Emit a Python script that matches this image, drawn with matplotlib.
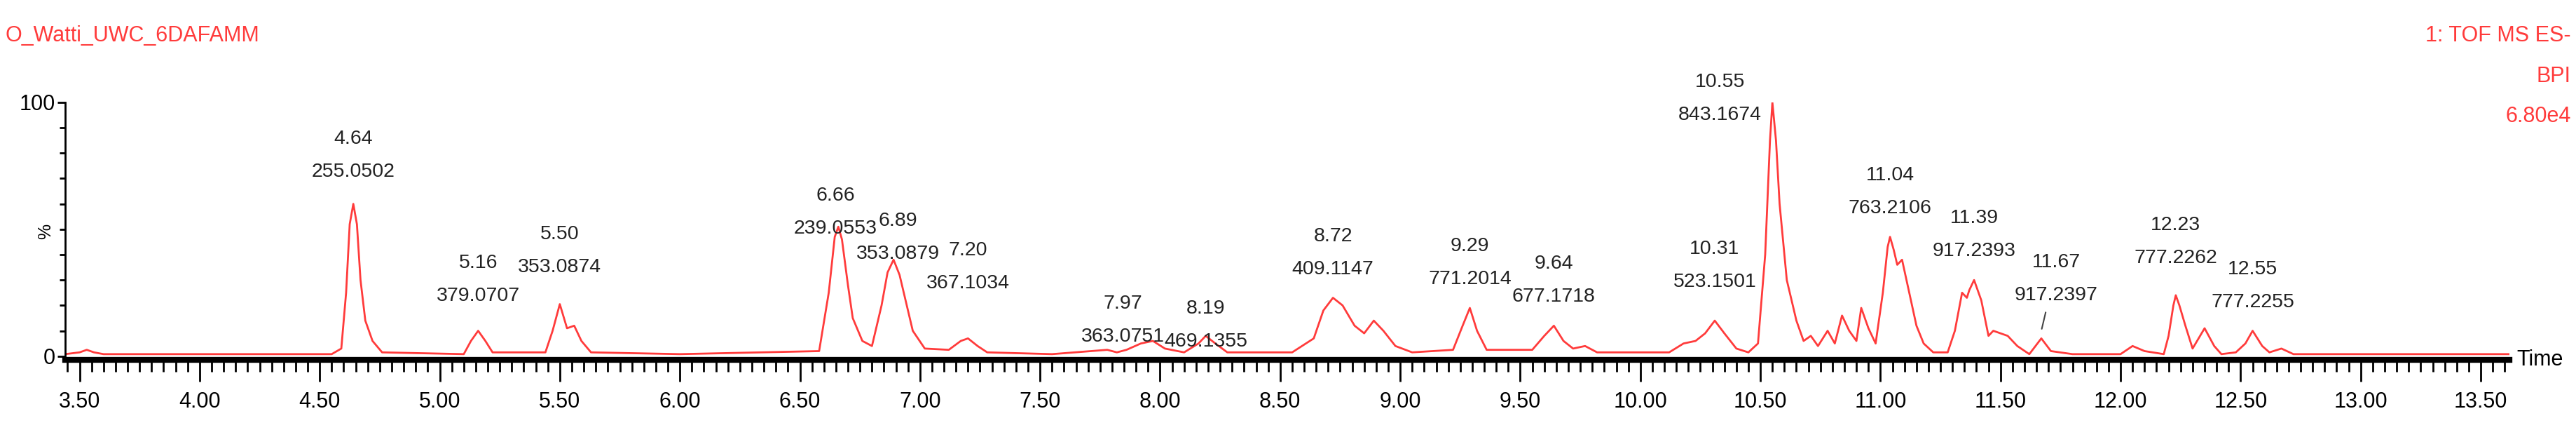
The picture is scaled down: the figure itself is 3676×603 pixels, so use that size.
import matplotlib.pyplot as plt
from matplotlib.ticker import MultipleLocator

# trace vertices (time [min], % BPI)
rt = [3.44, 3.50, 3.53, 3.56, 3.60, 4.00, 4.55, 4.59, 4.61, 4.625, 4.64, 4.655, 4.67, 4.69,
      4.72, 4.76, 5.10, 5.13, 5.16, 5.19, 5.22, 5.44, 5.47, 5.50, 5.53, 5.56, 5.59, 5.63,
      6.00, 6.58, 6.62, 6.645, 6.66, 6.675, 6.70, 6.72, 6.76, 6.80, 6.84, 6.865, 6.89,
      6.915, 6.94, 6.97, 7.02, 7.12, 7.17, 7.20, 7.24, 7.28, 7.55, 7.78, 7.82, 7.86, 7.92,
      7.97, 8.02, 8.10, 8.16, 8.19, 8.23, 8.28, 8.55, 8.64, 8.68, 8.72, 8.76, 8.81, 8.85,
      8.89, 8.93, 8.98, 9.05, 9.22, 9.26, 9.29, 9.32, 9.36, 9.55, 9.60, 9.64, 9.68, 9.72,
      9.77, 9.82, 10.12, 10.18, 10.23, 10.27, 10.31, 10.35, 10.40, 10.45, 10.49, 10.52,
      10.54, 10.55, 10.565, 10.58, 10.61, 10.65, 10.68, 10.71, 10.74, 10.78, 10.81, 10.84,
      10.87, 10.90, 10.92, 10.95, 10.98, 11.01, 11.03, 11.04, 11.055, 11.07, 11.09, 11.12,
      11.15, 11.18, 11.22, 11.28, 11.31, 11.34, 11.36, 11.37, 11.39, 11.42, 11.45, 11.47,
      11.50, 11.53, 11.57, 11.62, 11.67, 11.71, 11.80, 12.00, 12.05, 12.10, 12.18, 12.20,
      12.22, 12.23, 12.245, 12.27, 12.30, 12.35, 12.39, 12.42, 12.48, 12.52, 12.55, 12.59,
      12.62, 12.67, 12.72, 13.00, 13.62]
bpi = [0.8, 1.5, 2.5, 1.5, 0.8, 0.8, 0.8, 3, 25, 52, 60, 52, 30, 14,
       6, 1.5, 0.8, 6, 10, 6, 1.5, 1.5, 10, 20.5, 11, 12, 6, 1.5,
       0.8, 2, 25, 47, 51, 46, 28, 15, 6, 4, 20, 33, 38,
       32, 22, 10, 3, 2.5, 6, 7, 4, 1.5, 0.8, 2.5, 1.5, 2.5, 5,
       6, 3, 1.5, 5, 8, 5, 1.5, 1.5, 7, 18, 23, 20, 12, 9,
       14, 10, 4, 1.5, 2.5, 12, 19, 10, 2.5, 2.5, 8, 12, 6, 3,
       4, 1.5, 1.5, 5, 6, 9, 14, 9, 3, 1.5, 5, 40,
       85, 100, 85, 60, 30, 14, 6, 8, 4, 10, 5, 16,
       10, 6, 19, 11, 5, 25, 43, 47, 42, 36, 38, 25,
       12, 5, 1.5, 1.5, 10, 25, 23, 26, 30, 22, 8, 10,
       9, 8, 4, 0.8, 7, 2, 0.8, 0.8, 4, 2, 0.8, 8,
       20, 24, 20, 12, 3, 11, 4, 0.8, 1.5, 5, 10, 4,
       1.5, 3, 0.8, 0.8, 0.8]

# annotated peaks: retention time, height, m/z
peak_rt = [4.64, 5.16, 5.50, 6.66, 6.89, 7.20, 7.97, 8.19, 8.72, 9.29, 9.64,
           10.31, 10.55, 11.04, 11.39, 11.67, 12.23, 12.55]
peak_h = [60, 10, 20.5, 51, 38, 7, 6, 8, 23, 19, 12, 14, 100, 47, 30, 7, 24, 10]
peak_mz = ["255.0502", "379.0707", "353.0874", "239.0553", "353.0879", "367.1034",
           "363.0751", "469.1355", "409.1147", "771.2014", "677.1718", "523.1501",
           "843.1674", "763.2106", "917.2393", "917.2397", "777.2262", "777.2255"]
# label offsets in pixels (dx, dy) where the software moved the label
label_shift = {4.64: (0, 5), 5.16: (0, 9), 5.50: (0, 12), 6.66: (-4, -44),
               6.89: (6, -33), 7.20: (0, 37), 7.97: (-43, -35), 8.19: (0, -49),
               10.31: (0, 14), 10.55: (-75, -59), 11.67: (21, 20), 12.23: (0, 12)}

RED = "#ff3b3b"
FONT = ["Liberation Sans Narrow", "Liberation Sans", "DejaVu Sans"]
plt.rcParams["font.family"] = FONT

fig = plt.figure(figsize=(36.76, 6.03), dpi=100)
ax = fig.add_axes([0.0253, 0.149, 0.9489, 0.609])
ax.plot(rt, bpi, color=RED, lw=2)
ax.set_xlim(3.44, 13.62)
ax.set_ylim(-1.5, 100)

for t, h, mz in zip(peak_rt, peak_h, peak_mz):
    dx, dy = label_shift.get(t, (0, 0))
    ax.annotate(mz, (t, h), xytext=(dx, 28 + dy), textcoords="offset pixels",
                ha="center", va="bottom", fontsize=20.5, color="#222222")
    ax.annotate(f"{t:.2f}", (t, h), xytext=(dx, 75 + dy), textcoords="offset pixels",
                ha="center", va="bottom", fontsize=20.5, color="#222222")
ax.plot([10.545, 10.575], [101.5, 101.5], color="black", lw=2.5)
ax.annotate("", (11.67, 10), xytext=(11.69, 18), arrowprops=dict(arrowstyle="-", color="#444444", lw=1.5))

for s in ["top", "right"]:
    ax.spines[s].set_visible(False)
ax.spines["bottom"].set_linewidth(6)
ax.spines["left"].set_linewidth(2)

ax.xaxis.set_major_locator(MultipleLocator(0.5))
ax.xaxis.set_minor_locator(MultipleLocator(0.05))
ax.xaxis.set_major_formatter(lambda v, p: f"{v:.2f}")
ax.tick_params(axis="x", which="major", length=22, width=2, labelsize=22, pad=10)
ax.tick_params(axis="x", which="minor", length=12, width=2)
ax.set_yticks([0, 100])
ax.yaxis.set_minor_locator(MultipleLocator(10))
ax.tick_params(axis="y", which="major", length=8, width=2, labelsize=22, pad=2)
ax.tick_params(axis="y", which="minor", length=6, width=2)
ax.text(-0.008, 0.5, "%", transform=ax.transAxes, rotation=90, ha="center",
        va="center", fontsize=18)
ax.text(1.003, 0.0, "Time", transform=ax.transAxes, ha="left", va="center", fontsize=22)

fig.text(0.002, 0.915, "O_Watti_UWC_6DAFAMM", color=RED, fontsize=22, va="center")
fig.text(0.998, 0.915, "1: TOF MS ES-", color=RED, fontsize=22, va="center", ha="right")
fig.text(0.998, 0.82, "BPI", color=RED, fontsize=22, va="center", ha="right")
fig.text(0.998, 0.725, "6.80e4", color=RED, fontsize=22, va="center", ha="right")

fig.savefig("out.png", dpi=100, facecolor="white")
